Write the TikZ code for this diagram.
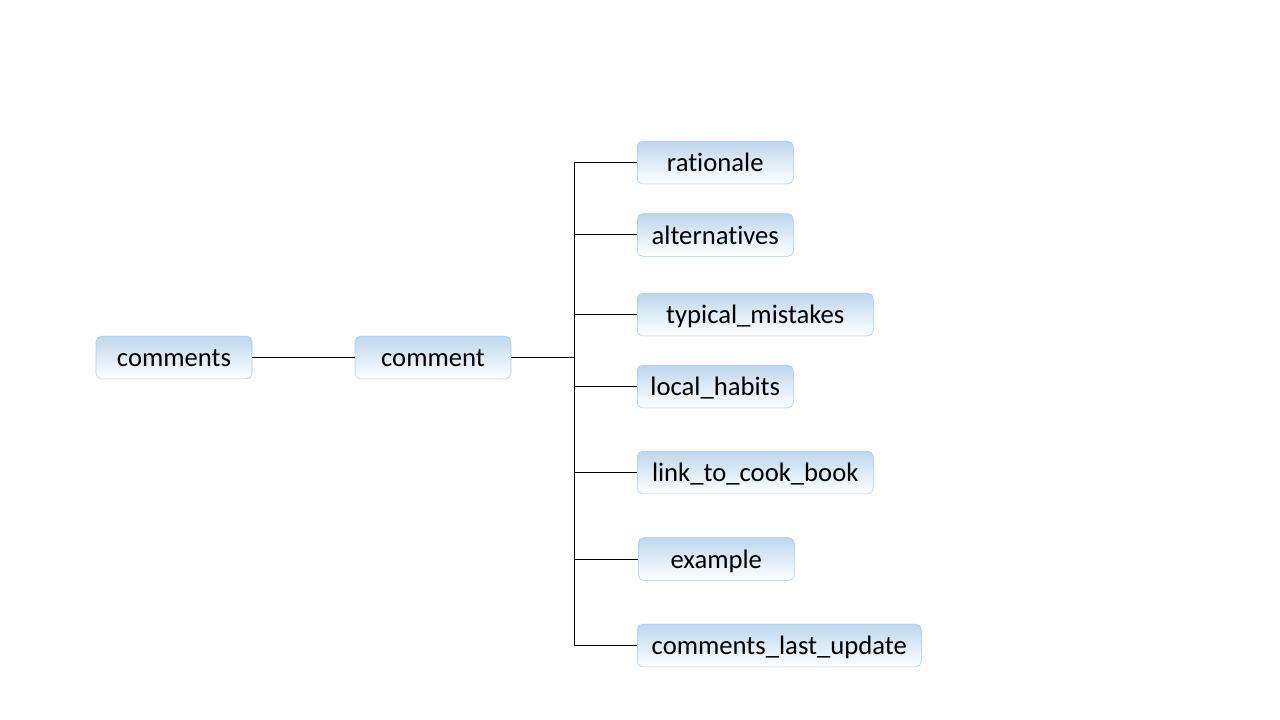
\documentclass[tikz,border=0pt]{standalone}
\usepackage{fontspec}
\setmainfont{Carlito}[Ligatures=NoCommon]
\definecolor{boxtop}{HTML}{BDD7EE}
\definecolor{boxline}{HTML}{A9CBEA}
\tikzset{
  field/.style={draw=boxline, top color=boxtop, bottom color=white,
    rounded corners=4pt, minimum width=117pt, minimum height=32pt,
    inner sep=0pt, text height=17pt, text depth=3pt,
    font=\fontsize{20}{24}\selectfont},
  link/.style={line width=.75pt}
}
\begin{document}
\begin{tikzpicture}[x=.75pt,y=-.75pt]
   \useasboundingbox (0,0) rectangle (1280,720);
   \node[field] (comments) at (174,357.5) {comments};
   \node[field] (comment) at (433,357.5) {comment};
   \node[field,anchor=west] (rationale) at (637,162.5) {rationale};
   \node[field,anchor=west] (alternatives) at (637,235) {alternatives};
   \node[field,anchor=west,minimum width=177pt] (mistakes) at (637,314.5) {typical\_mistakes};
   \node[field,anchor=west] (habits) at (637,386.5) {local\_habits};
   \node[field,anchor=west,minimum width=177pt] (cookbook) at (637,472.5) {link\_to\_cook\_book};
   \node[field,anchor=west] (example) at (638,559) {example};
   \node[field,anchor=west,minimum width=213pt] (lastupdate) at (637,645.5) {comments\_last\_update};
   \coordinate (bus) at (574,357.5);
     \draw[link] (comments) -- (comment);
   \foreach \child in {rationale,alternatives,mistakes,habits,cookbook,example,lastupdate}
      \draw[link] (comment.east) -- (bus) |- (\child.west);
\end{tikzpicture}
\end{document}
